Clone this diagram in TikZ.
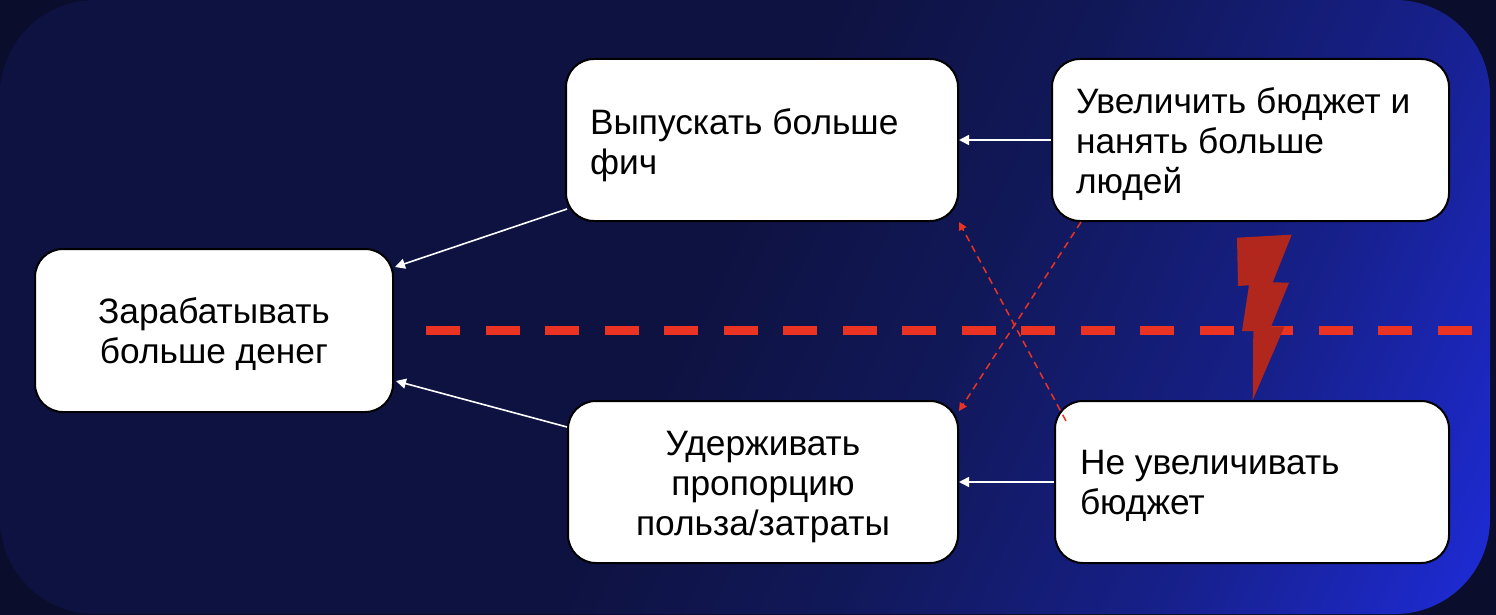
\documentclass[tikz,border=0pt]{standalone}
\usepackage{fontspec}
\setmainfont{Liberation Sans}
\usetikzlibrary{calc,arrows.meta}
\pgfdeclarehorizontalshading{bgshade}{2400bp}{
 rgb(0bp)=(0.055,0.071,0.255);
 rgb(950bp)=(0.055,0.071,0.255);
 rgb(1200bp)=(0.067,0.094,0.345);
 rgb(1500bp)=(0.088,0.125,0.540);
 rgb(1800bp)=(0.118,0.170,0.850);
 rgb(2000bp)=(0.118,0.170,0.850)}
\definecolor{pagebg}{HTML}{0A0D2C}
\definecolor{redline}{HTML}{EA3323}
\definecolor{boltred}{HTML}{B1271D}
\newcommand\boxtext[3]{\raisebox{-#1}[\height][\depth]{\parbox{#2}{#3}}}
\tikzset{
 box/.style={draw=black,line width=2pt,fill=white,rounded corners=28pt,inner sep=0pt,font=\fontsize{35.3}{40}\selectfont},
 white arrow/.style={draw=white,line width=1.6pt,-{Triangle[length=10pt,width=10pt]}},
 red arrow/.style={draw=redline,line width=1.5pt,dash pattern=on 7pt off 5pt,-{Triangle[length=8pt,width=8pt]}},
 divider/.style={draw=redline,line width=9pt,dash pattern=on 34pt off 25.5pt},
 bolt/.style={fill=boltred,draw=none}
}
\begin{document}
\begin{tikzpicture}[x=1pt,y=-1pt]
\useasboundingbox (0,0) rectangle (1496,615);
\fill[pagebg] (0,0) rectangle (1496,615);
\begin{scope}
 \clip[rounded corners=95pt] (0,0) rectangle (1490,614);
 \node[rotate=-25,inner sep=0pt,outer sep=0pt] (bg) at (748,307) {\pgfuseshading{bgshade}};
\end{scope}
\coordinate (divstart) at (426,330.5);
\coordinate (divend) at (1475,330.5);
\draw[divider] (divstart) -- (divend);
\fill[bolt] (1237,237.7) -- (1291.7,234.7) -- (1272.7,282.3) -- (1289,282.7) -- (1271,326.7) -- (1284.3,326.7) -- (1252.7,400) -- (1253.3,331) -- (1242,331) -- (1249,285.3) -- (1238,286) -- cycle;
\node[box,minimum width=358pt,minimum height=163pt] (earn) at (214,330.5) {\boxtext{3.2pt}{310pt}{\centering Зарабатывать\\больше денег}};
\node[box,minimum width=392pt,minimum height=162pt] (features) at (762,140) {\boxtext{5.7pt}{344pt}{\raggedright Выпускать больше\\фич}};
\node[box,minimum width=397pt,minimum height=162pt] (hire) at (1250.5,140) {\boxtext{3.7pt}{349pt}{\raggedright Увеличить бюджет и\\нанять больше\\людей}};
\node[box,minimum width=390pt,minimum height=162pt] (ratio) at (763,482) {\boxtext{5pt}{340pt}{\centering Удерживать\\пропорцию\\польза/затраты}};
\node[box,minimum width=394pt,minimum height=162pt] (keep) at (1252,482) {\boxtext{3.7pt}{344pt}{\raggedright Не увеличивать\\бюджет}};
\draw[white arrow] ($(features.south west)+(2,-13)$) -- ($(earn.north east)+(1,19)$);
\draw[white arrow] ($(ratio.north west)+(0,27)$) -- ($(earn.south east)+(2,-32)$);
\draw[white arrow] (hire.west) -- (features.east);
\draw[white arrow] (keep.west) -- (ratio.east);
\draw[red arrow] ($(hire.south west)+(30,0)$) -- ($(ratio.north east)+(0,11)$);
\draw[red arrow] ($(keep.north west)+(12,21)$) -- (features.south east);
\end{tikzpicture}
\end{document}
